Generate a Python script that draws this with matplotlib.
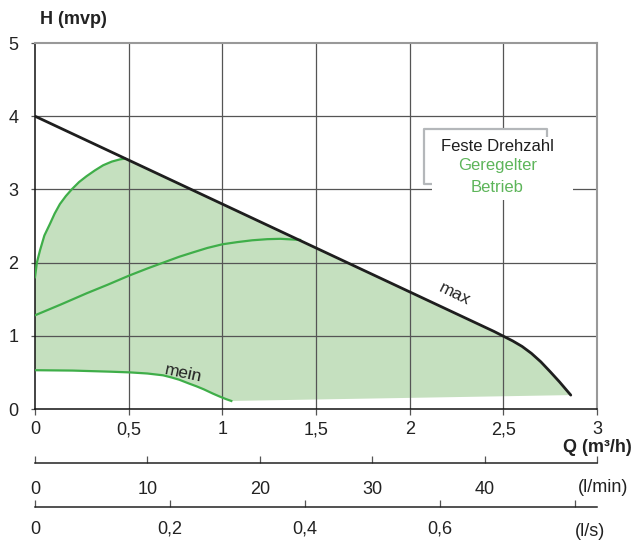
import numpy as np
import matplotlib
matplotlib.use("Agg")
import matplotlib.pyplot as plt
from matplotlib.patches import Rectangle

plt.rcParams['font.family'] = ['Liberation Sans', 'DejaVu Sans']

# ---------------------------------------------------------
# data (Q in m3/h, H in m)
# ---------------------------------------------------------
max_q = [0.0, 0.5, 1.0, 1.5, 2.0, 2.45, 2.5, 2.55, 2.6, 2.65, 2.7, 2.75, 2.8, 2.86]
max_h = [4.0, 3.4, 2.8, 2.2, 1.6, 1.06, 0.995, 0.93, 0.855, 0.76, 0.645, 0.51, 0.37, 0.19]

up_q = [0.0, 0.01, 0.027, 0.05, 0.08, 0.105, 0.133, 0.165, 0.196, 0.235,
        0.275, 0.32, 0.364, 0.41, 0.453, 0.48]
up_h = [1.8, 2.0, 2.17, 2.37, 2.53, 2.67, 2.8, 2.91, 3.0, 3.1,
        3.18, 3.26, 3.33, 3.38, 3.41, 3.42]

mid_q = [0.0, 0.14, 0.275, 0.39, 0.5, 0.6, 0.685, 0.77, 0.844, 0.92,
         1.0, 1.08, 1.16, 1.24, 1.31, 1.415]
mid_h = [1.28, 1.43, 1.58, 1.70, 1.82, 1.92, 2.0, 2.08, 2.14, 2.2,
         2.25, 2.28, 2.305, 2.32, 2.325, 2.31]

min_q = [0.0, 0.2, 0.4, 0.507, 0.6, 0.684, 0.73, 0.77, 0.82, 0.862,
         0.9, 0.95, 0.986, 1.02, 1.048]
min_h = [0.53, 0.525, 0.51, 0.50, 0.485, 0.46, 0.43, 0.40, 0.35, 0.31,
         0.27, 0.21, 0.17, 0.135, 0.11]

# lower edge of the shaded area
low_q = [1.048, 2.86]
low_h = [0.11, 0.19]

q_ticks = [0, 0.5, 1, 1.5, 2, 2.5, 3]
q_labels = ["0", "0,5", "1", "1,5", "2", "2,5", "3"]
h_ticks = [0, 1, 2, 3, 4, 5]
lmin_ticks = [0, 10, 20, 30, 40, 50]
lmin_labels = ["0", "10", "20", "30", "40", ""]
ls_ticks = [0, 0.2, 0.4, 0.6, 0.8]
ls_labels = ["0", "0,2", "0,4", "0,6", ""]

GREEN = "#3fae49"
FILL = "#c5e0bf"
W, H = 632, 540

fig = plt.figure(figsize=(W / 100, H / 100), dpi=100)
ax = fig.add_axes([35 / W, 1 - 409 / H, 562 / W, 366 / H])
ax.set_xlim(0, 3)
ax.set_ylim(0, 5)

# -------------------------------------------------------------
# shaded operating area
# -------------------------------------------------------------
mq = np.array(max_q)
mh = np.array(max_h)
sel = mq > up_q[-1]
poly_q = [0.0] + up_q + list(mq[sel]) + [low_q[0]] + min_q[::-1][1:]
poly_h = [min_h[0]] + up_h + list(mh[sel]) + [low_h[0]] + min_h[::-1][1:]
ax.fill(poly_q, poly_h, color=FILL, lw=0, zorder=1)

# grid
for x in q_ticks[1:-1]:
    ax.axvline(x, color="#555555", lw=0.9, zorder=2)
for y in h_ticks[1:-1]:
    ax.axhline(y, color="#555555", lw=0.9, zorder=2)

ax.plot(up_q, up_h, color=GREEN, lw=1.6, zorder=4)
ax.plot(mid_q, mid_h, color=GREEN, lw=1.6, zorder=4)
ax.plot(min_q, min_h, color=GREEN, lw=1.6, zorder=4)
ax.plot(max_q, max_h, color="#1e1e1e", lw=2.0, zorder=5, solid_capstyle="round")

ax.text(2.24, 1.57, "max", rotation=-26, fontsize=12.5, ha="center", va="center",
        color="#222222", zorder=6)
ax.text(0.79, 0.49, "mein", rotation=-12, fontsize=12.5, ha="center", va="center",
        color="#222222", zorder=6)

# legend box
ax.add_patch(Rectangle((2.12, 2.85), 0.75, 0.99, facecolor="white",
                       edgecolor="none", zorder=3))
ax.plot([2.12, 2.079, 2.079, 2.735, 2.735], [3.07, 3.07, 3.83, 3.83, 3.71],
        color="#b4b7ba", lw=1.6, zorder=6, solid_capstyle="butt")
ax.text(2.468, 3.59, "Feste Drehzahl", fontsize=12, ha="center", va="center",
        color="#1e1e1e", zorder=7)
ax.text(2.468, 3.32, "Geregelter", fontsize=12, ha="center", va="center",
        color="#5db55a", zorder=7)
ax.text(2.468, 3.03, "Betrieb", fontsize=12, ha="center", va="center",
        color="#5db55a", zorder=7)

# spines and ticks
for s in ["left", "bottom"]:
    ax.spines[s].set_color("#111111")
    ax.spines[s].set_linewidth(1.1)
for s in ["top", "right"]:
    ax.spines[s].set_color("#999999")
    ax.spines[s].set_linewidth(1.5)
ax.set_xticks(q_ticks)
ax.set_xticklabels(q_labels)
ax.set_yticks(h_ticks)
ax.tick_params(axis="x", length=4, width=0.9, color="#555555", pad=5,
               labelsize=13, labelcolor="#222222")
ax.tick_params(axis="y", length=3, width=0.9, color="#555555", pad=9,
               labelsize=13, labelcolor="#222222")

fig.text(40 / W, 1 - 20 / H, "H (mvp)", fontsize=13, fontweight="bold",
         ha="left", va="center", color="#222222")
fig.text(632 / W, 1 - 447 / H, "Q (m³/h)", fontsize=13, fontweight="bold",
         ha="right", va="center", color="#222222")

# secondary flow scales
def flow_scale(ypix, xmax, ticks, labels, unit, unit_x, pad):
    a = fig.add_axes([35 / W, 1 - ypix / H, 562 / W, 0.0001])
    a.set_xlim(0, xmax)
    a.set_yticks([])
    for s in ["left", "right", "top"]:
        a.spines[s].set_visible(False)
    a.spines["bottom"].set_color("#222222")
    a.spines["bottom"].set_linewidth(1.1)
    a.patch.set_visible(False)
    a.set_xticks(ticks)
    a.set_xticklabels(labels)
    a.tick_params(axis="x", direction="in", length=5, width=0.9,
                  color="#555555", pad=pad, labelsize=13, labelcolor="#222222")
    fig.text(unit_x / W, 1 - (ypix + 24) / H, unit, fontsize=13,
             ha="center", va="center", color="#222222")

flow_scale(463, 50, lmin_ticks, lmin_labels, "(l/min)", 603, 13)
flow_scale(507, 3 / 3.6, ls_ticks, ls_labels, "(l/s)", 590, 10)

fig.savefig("out.png", dpi=100)
